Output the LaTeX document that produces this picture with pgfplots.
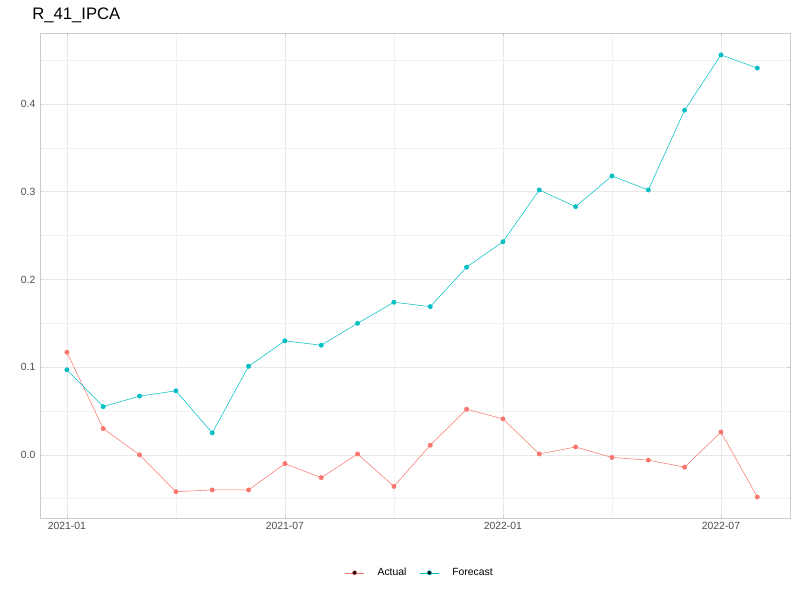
\documentclass[border=0pt]{standalone}
\usepackage{pgfplots}
\pgfplotsset{compat=1.18}
\usepackage{fontspec}
\setmainfont{Liberation Sans}
\definecolor{cA}{HTML}{F8766D}
\definecolor{cF}{HTML}{00BFC4}
\begin{document}
\begin{tikzpicture}
\path[use as bounding box] (0,0) rectangle (600pt,450pt);
\node[anchor=north west,font=\fontsize{12.5pt}{14pt}\selectfont,inner sep=2pt] at (22pt,446pt) {R\_41\_IPCA};
\begin{axis}[at={(30pt,61.5pt)},anchor=south west,scale only axis,
 width=562.5pt,height=363.75pt,
 xmin=-0.74,xmax=19.9,ymin=-0.072,ymax=0.481,
 xtick={0,6,12,18},xticklabels={2021-01,2021-07,2022-01,2022-07},
 minor xtick={3,9,15},
 ytick={0,0.1,0.2,0.3,0.4},minor ytick={-0.05,0.05,0.15,0.25,0.35,0.45},
 yticklabel style={/pgf/number format/fixed,/pgf/number format/fixed zerofill,/pgf/number format/precision=1},
 /pgf/number format/assume math mode=true,
 ticklabel style={font=\fontsize{7.8pt}{9pt}\selectfont,text=black!70},
 tick style={black!20,thin},major tick length=2.5pt,minor tick length=0pt,
 grid=both,major grid style={black!9,line width=0.5pt},minor grid style={black!5,line width=0.4pt},
 axis line style={black!20},
 legend style={at={(0.507,-0.113)},anchor=center,draw=none,font=\fontsize{7.8pt}{9pt}\selectfont,column sep=8pt},
 legend columns=2,
 legend image code/.code={\draw[#1] (0pt,0pt)--(14pt,0pt); \fill[#1] (7pt,0pt) circle (1.6pt);},
]
\addplot[draw=cA,line width=0.4pt,mark=*,mark size=1.6pt,mark options={draw=cA,fill=cA}] coordinates {
(0,0.117)(1,0.030)(2,0.0)(3,-0.042)(4,-0.040)(5,-0.040)(6,-0.010)(7,-0.026)(8,0.001)(9,-0.036)
(10,0.011)(11,0.052)(12,0.041)(13,0.001)(14,0.009)(15,-0.003)(16,-0.006)(17,-0.014)(18,0.026)(19,-0.048)};
\addlegendentry{Actual}
\addplot[draw=cF,line width=0.4pt,mark=*,mark size=1.6pt,mark options={draw=cF,fill=cF}] coordinates {
(0,0.097)(1,0.055)(2,0.067)(3,0.073)(4,0.025)(5,0.101)(6,0.130)(7,0.125)(8,0.150)(9,0.174)
(10,0.169)(11,0.214)(12,0.243)(13,0.302)(14,0.283)(15,0.318)(16,0.302)(17,0.393)(18,0.456)(19,0.441)};
\addlegendentry{Forecast}
\end{axis}
\end{tikzpicture}
\end{document}
